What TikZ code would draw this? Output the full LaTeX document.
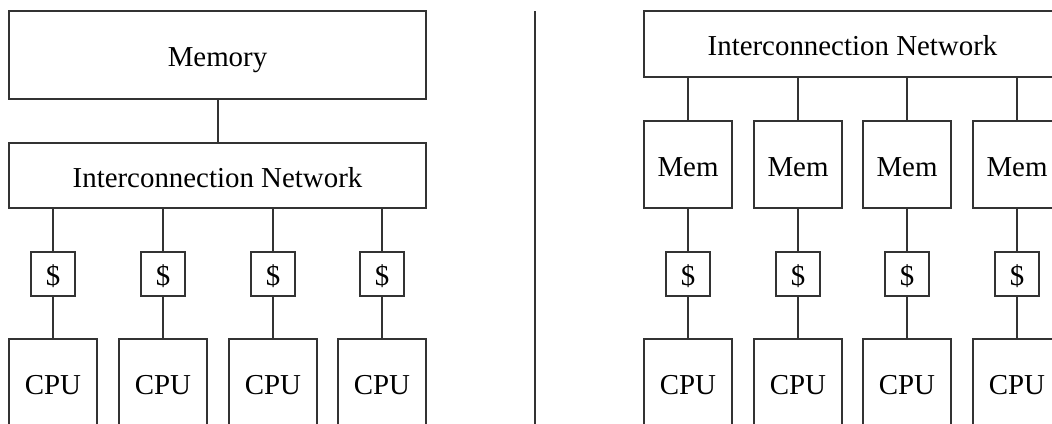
\documentclass[tikz,border=0pt]{standalone}
\usepackage{fontspec}
\setmainfont{Liberation Serif}
\begin{document}
\begin{tikzpicture}[x=1bp,y=-1bp,
  every node/.style={inner sep=0pt, outer sep=0pt},
  box/.style={draw=black!80, line width=1.1bp, font=\fontsize{29}{34}\selectfont,
    text height=23.5bp, text depth=0pt},
  wide/.style={box, minimum width=417bp},
  sq/.style={box, minimum width=88bp, minimum height=88bp},
  cache/.style={box, minimum width=44bp, minimum height=44bp},
  link/.style={draw=black!80, line width=1.1bp}]
\useasboundingbox (0,0) rectangle (1052,423);
\clip (0,0) rectangle (1052,423);
% left
\node[wide, minimum height=88bp] (mem) at (217.5,55) {Memory};
\node[wide, minimum height=65bp] (inL) at (217.5,175.5) {Interconnection Network};
\coordinate (mlink) at (218,99);
\draw[link] (mlink) -- (mlink |- inL.north);
\foreach \i/\x in {1/53,2/163,3/273,4/382}{
  \node[cache] (lc\i) at (\x,274) {\$};
  \node[sq] (lcpu\i) at (\x,383) {CPU};
  \draw[link] (lc\i.north |- inL.south) -- (lc\i.north);
  \draw[link] (lc\i.south) -- (lcpu\i.north);
}
% divider
\coordinate (dtop) at (535,11);
\coordinate (dbot) at (535,430);
\draw[link] (dtop) -- (dbot);
% right
\node[wide, minimum height=66bp] (inR) at (852.5,44) {Interconnection Network};
\foreach \i/\x in {1/688,2/798,3/907,4/1017}{
  \node[sq, minimum height=87bp] (rm\i) at (\x,164.5) {Mem};
  \node[cache] (rc\i) at (\x,274) {\$};
  \node[sq] (rcpu\i) at (\x,383) {CPU};
  \draw[link] (rm\i.north |- inR.south) -- (rm\i.north);
  \draw[link] (rm\i.south) -- (rc\i.north);
  \draw[link] (rc\i.south) -- (rcpu\i.north);
}
\end{tikzpicture}
\end{document}
